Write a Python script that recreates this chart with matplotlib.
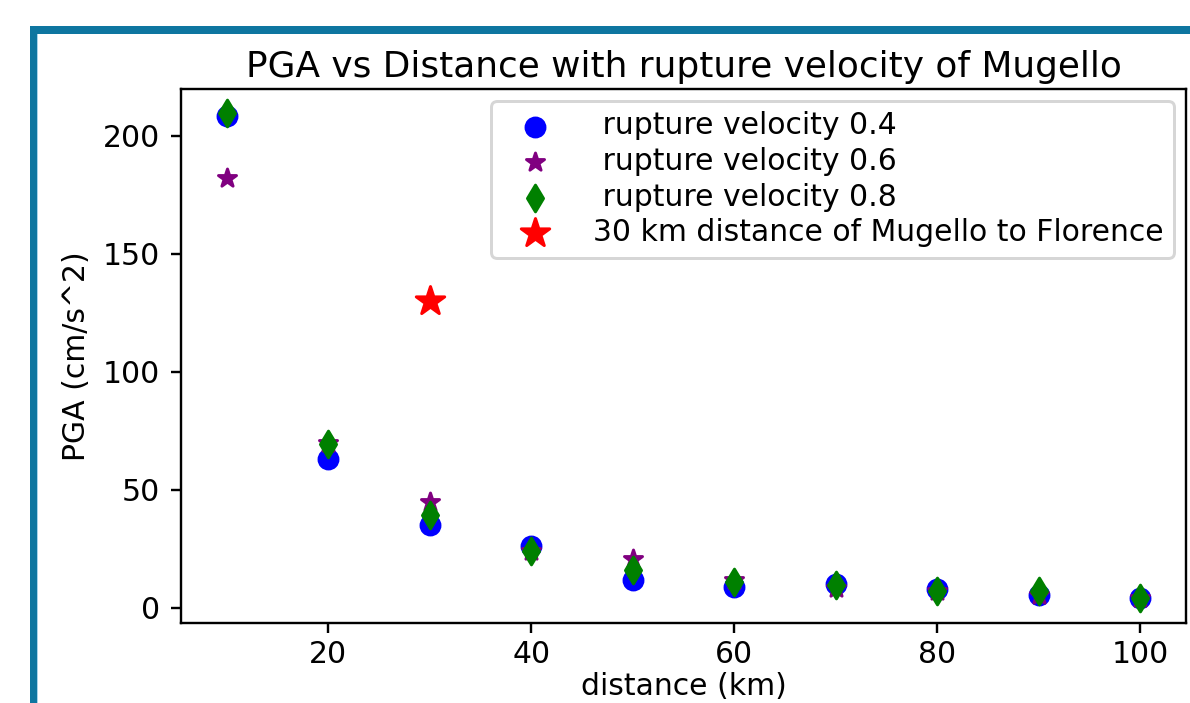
import matplotlib.pyplot as plt
from matplotlib.patches import Rectangle

# data
distance = [10, 20, 30, 40, 50, 60, 70, 80, 90, 100]
pga_v04 = [208.5, 63, 35, 26, 12, 9, 10, 8, 5.5, 4]
pga_v06 = [182, 70, 45, 24, 20.5, 12, 8.5, 7, 5.5, 4]
pga_v08 = [209.5, 69.5, 39.5, 24, 16, 11, 9.5, 7, 7, 4]
florence_dist = [30]
florence_pga = [130]

W, H = 1190, 703
DPI = 215
fig = plt.figure(figsize=(W / DPI, H / DPI), dpi=DPI, facecolor='white')

# blue frame of the screenshot (left and top)
frame_col = '#0e76a0'
fig.add_artist(Rectangle((29.5 / W, 0), 7.5 / W, (H - 26) / H,
                         transform=fig.transFigure, color=frame_col, lw=0))
fig.add_artist(Rectangle((29.5 / W, (H - 33.5) / H), 1 - 29.5 / W, 7.5 / H,
                         transform=fig.transFigure, color=frame_col, lw=0))
fig.add_artist(Rectangle((37 / W, 0), 1.2 / W, (H - 33.5) / H,
                         transform=fig.transFigure, color='#a8d4ea', lw=0))

ax_h = 622.7 - 89
ax = fig.add_axes([181 / W, (H - 622.7) / H, (1186 - 181) / W, ax_h / H])

ax.scatter(distance, pga_v04, c='blue', marker='o', s=40, label=' rupture velocity 0.4')
ax.scatter(distance, pga_v06, c='purple', marker='*', s=40, label=' rupture velocity 0.6')
ax.scatter(distance, pga_v08, c='green', marker='d', s=40, label=' rupture velocity 0.8')
ax.scatter(florence_dist, florence_pga, c='red', marker='*', s=100,
           label='30 km distance of Mugello to Florence')

ax.tick_params(axis='x', pad=2.2)
ax.set_title('PGA vs Distance with rupture velocity of Mugello', pad=4)
ax.set_xlabel('distance (km)')
ax.xaxis.set_label_coords(0.5, -(672 - 622.7) / ax_h)
ax.set_ylabel('PGA (cm/s^2)')
ax.legend(loc='upper right', labelspacing=0.22, borderpad=0.35,
          handlelength=2.25, borderaxespad=0.4)

fig.savefig('out.png', dpi=DPI)
